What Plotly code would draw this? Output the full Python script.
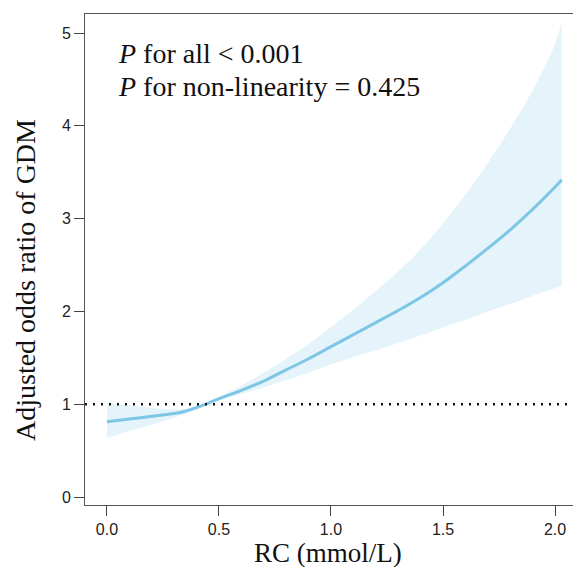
import plotly.graph_objects as go

# Data
rc_values = [0.0, 0.1, 0.2, 0.3, 0.35, 0.4, 0.45, 0.5, 0.6, 0.7, 0.8, 0.9, 1.0,
             1.1, 1.2, 1.3, 1.4, 1.5, 1.6, 1.7, 1.8, 1.9, 2.0, 2.03]
odds_ratio = [0.81, 0.84, 0.87, 0.90, 0.925, 0.965, 1.01, 1.06, 1.15, 1.25, 1.37, 1.49, 1.62,
              1.75, 1.88, 2.01, 2.15, 2.31, 2.49, 2.68, 2.88, 3.10, 3.34, 3.42]
upper_ci = [1.01, 0.985, 0.96, 0.945, 0.95, 0.975, 1.015, 1.08, 1.20, 1.34, 1.49, 1.65, 1.83,
            2.02, 2.22, 2.43, 2.67, 2.95, 3.26, 3.60, 3.97, 4.38, 4.88, 5.12]
lower_ci = [0.64, 0.71, 0.78, 0.855, 0.895, 0.94, 1.005, 1.04, 1.11, 1.18, 1.26, 1.34, 1.43,
            1.51, 1.58, 1.66, 1.74, 1.83, 1.91, 2.00, 2.08, 2.17, 2.25, 2.27]
x_ticks = [0.0, 0.5, 1.0, 1.5, 2.0]
x_tick_labels = ["0.0", "0.5", "1.0", "1.5", "2.0"]
y_ticks = [0, 1, 2, 3, 4, 5]
y_tick_labels = ["0", "1", "2", "3", "4", "5"]
reference_or = 1
annotation_lines = ["<i>P</i> for all < 0.001", "<i>P</i> for non-linearity = 0.425"]

# page body has an 8px margin; the figure is sized to fit the window
OFF = 8
W, H = 573, 559
ML, MR, MT, MB = 77, 0, 6, 62
PLOT_L, PLOT_T = OFF + ML, OFF + MT
PLOT_W, PLOT_H = W - ML - MR, H - MT - MB


def px_x(px):
    return (px - PLOT_L) / PLOT_W


def px_y(py):
    return (PLOT_T + PLOT_H - py) / PLOT_H


fig = go.Figure()
fig.add_trace(go.Scatter(x=rc_values, y=lower_ci, mode="lines",
                         line=dict(width=0, shape="spline", smoothing=0.8),
                         hoverinfo="skip", showlegend=False))
fig.add_trace(go.Scatter(x=rc_values, y=upper_ci, mode="lines",
                         line=dict(width=0, shape="spline", smoothing=0.8),
                         fill="tonexty", fillcolor="#e5f3fa", hoverinfo="skip", showlegend=False))
fig.add_trace(go.Scatter(x=rc_values, y=odds_ratio, mode="lines",
                         line=dict(color="#7dc6e5", width=3, shape="spline", smoothing=0.8),
                         showlegend=False))

fig.add_shape(type="line", xref="paper", x0=0, x1=1, yref="y", y0=reference_or, y1=reference_or,
              line=dict(color="#111111", width=2.5, dash="2px,6px"))

serif = "Liberation Serif, Times New Roman, serif"
sans = "Liberation Sans, Arial, Helvetica, sans-serif"

fig.add_annotation(text=annotation_lines[0], xref="paper", yref="paper",
                   x=px_x(116), y=px_y(53), xanchor="left", yanchor="middle",
                   showarrow=False, font=dict(family=serif, size=28, color="#111111"))
fig.add_annotation(text=annotation_lines[1], xref="paper", yref="paper",
                   x=px_x(116), y=px_y(86), xanchor="left", yanchor="middle",
                   showarrow=False, font=dict(family=serif, size=28, color="#111111"))

fig.add_annotation(text="Adjusted odds ratio of GDM", xref="paper", yref="paper",
                   x=px_x(26), y=px_y(280), xanchor="center", yanchor="middle", textangle=-90,
                   showarrow=False, font=dict(family=serif, size=28, color="#111111"))
fig.add_annotation(text="RC (mmol/L)", xref="paper", yref="paper",
                   x=px_x(328), y=px_y(553), xanchor="center", yanchor="middle",
                   showarrow=False, font=dict(family=serif, size=27, color="#111111"))

fig.update_layout(
    width=W, height=H,
    margin=dict(l=ML, r=MR, t=MT, b=MB),
    plot_bgcolor="white", paper_bgcolor="white",
    xaxis=dict(range=[-0.098, 2.116], tickvals=x_ticks, ticktext=x_tick_labels,
               showline=True, linecolor="#555555", linewidth=1, mirror=True,
               ticks="outside", ticklen=10, tickwidth=1, tickcolor="#444444",
               showgrid=False, zeroline=False,
               tickfont=dict(family=sans, size=16, color="#222222")),
    yaxis=dict(range=[-0.086, 5.205], tickvals=y_ticks, ticktext=y_tick_labels,
               showline=True, linecolor="#555555", linewidth=1,
               ticks="outside", ticklen=10, tickwidth=1, tickcolor="#444444",
               showgrid=False, zeroline=False,
               tickfont=dict(family=sans, size=16, color="#222222")),
)

fig.write_html("out.html")
